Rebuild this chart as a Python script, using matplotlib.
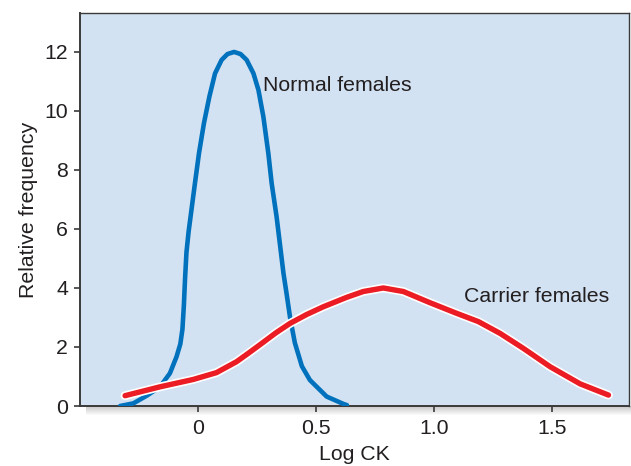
import numpy as np
import matplotlib
matplotlib.use("Agg")
import matplotlib.pyplot as plt
import matplotlib.patheffects as pe
from matplotlib.patches import Rectangle

plt.rcParams["font.family"] = ["Liberation Sans", "DejaVu Sans"]

# ---------------- data ----------------
normal_x = [-0.33, -0.274, -0.217, -0.161, -0.119, -0.091, -0.075, -0.066, -0.06, -0.055,
            -0.049, -0.04, -0.031, -0.013, 0.004, 0.025, 0.048, 0.072, 0.1, 0.125,
            0.153, 0.18, 0.206, 0.235, 0.256, 0.277, 0.298, 0.312, 0.333, 0.35,
            0.362, 0.375, 0.39, 0.41, 0.44, 0.474, 0.545, 0.616, 0.631]
normal_y = [0.0, 0.09, 0.35, 0.65, 1.11, 1.67, 2.1, 2.6, 3.4, 4.3,
            5.2, 5.9, 6.45, 7.55, 8.56, 9.58, 10.48, 11.27, 11.73, 11.93,
            12.0, 11.93, 11.73, 11.27, 10.71, 9.8, 8.56, 7.55, 6.41, 5.29,
            4.5, 3.82, 3.0, 2.15, 1.35, 0.88, 0.32, 0.07, 0.03]

carrier_x = [-0.309, -0.161, -0.02, 0.078, 0.163, 0.212, 0.263, 0.33, 0.39, 0.46,
             0.53, 0.629, 0.7, 0.785, 0.87, 0.983, 1.096, 1.188, 1.28, 1.379,
             1.492, 1.619, 1.739]
carrier_y = [0.35, 0.65, 0.9, 1.13, 1.5, 1.78, 2.08, 2.48, 2.8, 3.1,
             3.36, 3.68, 3.88, 4.0, 3.88, 3.5, 3.14, 2.86, 2.46, 1.95,
             1.33, 0.75, 0.37]

x_ticks = [0, 0.5, 1.0, 1.5]
x_tick_labels = ["0", "0.5", "1.0", "1.5"]
y_ticks = [0, 2, 4, 6, 8, 10, 12]

# ---------------- figure ----------------
fig = plt.figure(figsize=(6.31, 4.66), dpi=100)
ax_pos = [80 / 631, 60 / 466, 549 / 631, 393 / 466]

# soft drop shadow under the plot box
for i in range(9):
    h = (i + 1) / 466
    fig.patches.append(Rectangle((ax_pos[0] + 6 / 631, ax_pos[1] - h),
                                 ax_pos[2] - 4 / 631, h,
                                 transform=fig.transFigure, color="black",
                                 alpha=0.022, lw=0, zorder=0))

ax = fig.add_axes(ax_pos)
ax.set_zorder(2)
ax.set_facecolor("#d3e2f2")

ax.plot(normal_x, normal_y, color="#0071bc", lw=3.3, solid_capstyle="round",
        solid_joinstyle="round", zorder=3)
ax.plot(carrier_x, carrier_y, color="#ec1c24", lw=3.9, solid_capstyle="round",
        solid_joinstyle="round", zorder=4,
        path_effects=[pe.Stroke(linewidth=6.3, foreground="white"), pe.Normal()])

ax.text(0.275, 10.85, "Normal females", fontsize=15.3, color="#231f20", va="center")
ax.text(1.125, 3.7, "Carrier females", fontsize=15.3, color="#231f20", va="center")

ax.set_xlim(-0.5, 1.826)
ax.set_ylim(0, 13.32)
ax.set_xticks(x_ticks)
ax.set_xticklabels(x_tick_labels)
ax.set_yticks(y_ticks)
ax.tick_params(axis="both", labelsize=15.3, colors="#3a3a3a", labelcolor="#231f20",
               length=4.5, width=1.2)
ax.tick_params(axis="x", pad=5)
ax.tick_params(axis="y", pad=4)
for s in ax.spines.values():
    s.set_color("#3a3a3a")
    s.set_linewidth(1.0)
ax.spines["left"].set_linewidth(1.4)
ax.spines["bottom"].set_linewidth(1.4)

ax.set_ylabel("Relative frequency", fontsize=15.3, color="#231f20", labelpad=5)
ax.set_xlabel("Log CK", fontsize=15.3, color="#231f20", labelpad=5)

fig.savefig("out.png", dpi=100)
